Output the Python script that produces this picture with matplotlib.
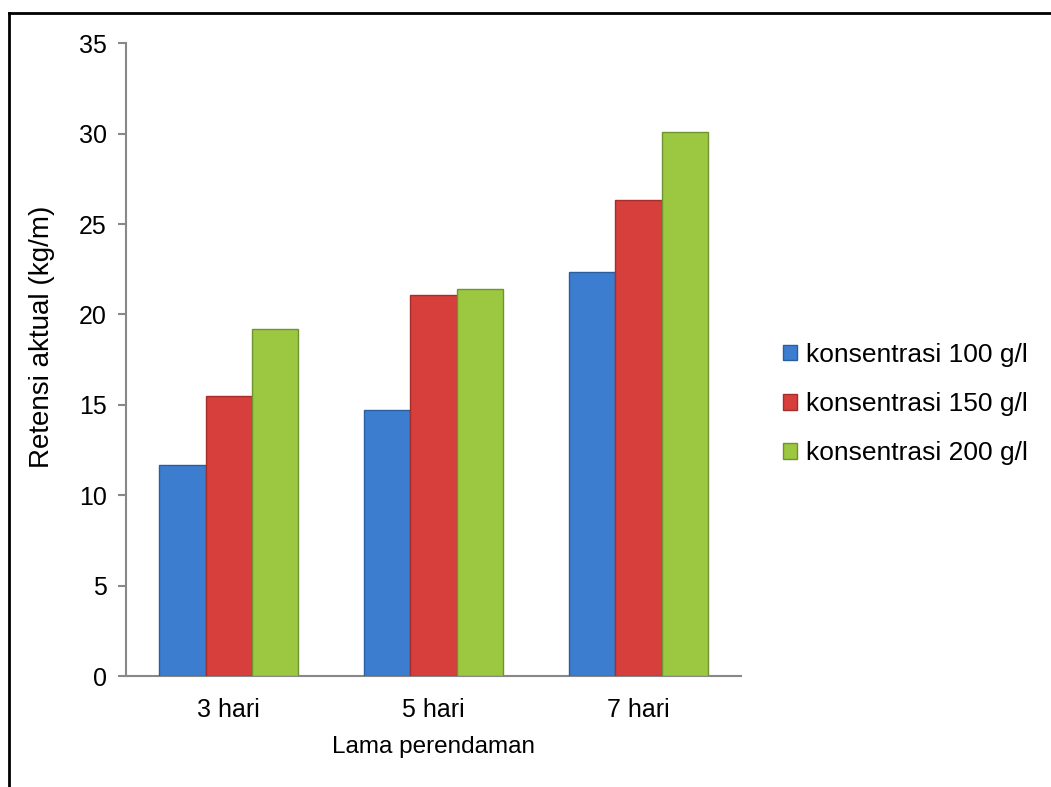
import numpy as np
import matplotlib
matplotlib.use("Agg")
import matplotlib.pyplot as plt
from matplotlib.lines import Line2D

# data
categories = ["3 hari", "5 hari", "7 hari"]
series = ["konsentrasi 100 g/l", "konsentrasi 150 g/l", "konsentrasi 200 g/l"]
k100 = [11.65, 14.7, 22.35]
k150 = [15.5, 21.1, 26.35]
k200 = [19.2, 21.4, 30.1]

colors = ["#3C7DD0", "#D63F3B", "#9CC741"]
edges = ["#2A5E9E", "#A52E2B", "#6F9330"]

plt.rcParams["font.family"] = ["Liberation Sans", "DejaVu Sans"]

fig = plt.figure(figsize=(10.51, 7.87), dpi=100)
# frame around the chart (open at right and bottom, as in the source)
fig.add_artist(Line2D([0.0086, 1.0], [0.9835, 0.9835], color="black", lw=2, transform=fig.transFigure))
fig.add_artist(Line2D([0.0086, 0.0086], [0.0, 0.9835], color="black", lw=2, transform=fig.transFigure))

ax = fig.add_axes([0.12, 0.141, 0.585, 0.804])

x = np.arange(len(categories))
w = 0.225
for i, (vals, lab) in enumerate(zip([k100, k150, k200], series)):
    ax.bar(x + (i - 1) * w, vals, width=w, color=colors[i], edgecolor=edges[i],
           linewidth=1.0, label=lab, zorder=3)

ax.set_xlim(-0.5, 2.5)
ax.set_ylim(0, 35)
ax.set_yticks(np.arange(0, 36, 5))
ax.set_xticks(x)
ax.set_xticklabels(categories)
ax.tick_params(axis="y", colors="#888888", labelcolor="black", labelsize=18, length=6, width=1.5, pad=8)
ax.tick_params(axis="x", length=0, labelsize=18, pad=16)

for s in ["top", "right"]:
    ax.spines[s].set_visible(False)
for s in ["left", "bottom"]:
    ax.spines[s].set_color("#888888")
    ax.spines[s].set_linewidth(1.5)

ax.set_ylabel("Retensi aktual (kg/m)", fontsize=20)
ax.yaxis.set_label_coords(-0.115, 0.536)
ax.set_xlabel("Lama perendaman", fontsize=17.5, labelpad=10)

ax.legend(loc="center left", bbox_to_anchor=(1.029, 0.43), frameon=False, fontsize=19,
          handlelength=0.55, handleheight=0.55, handletextpad=0.35, labelspacing=0.95)

fig.savefig("out.png", dpi=100)
